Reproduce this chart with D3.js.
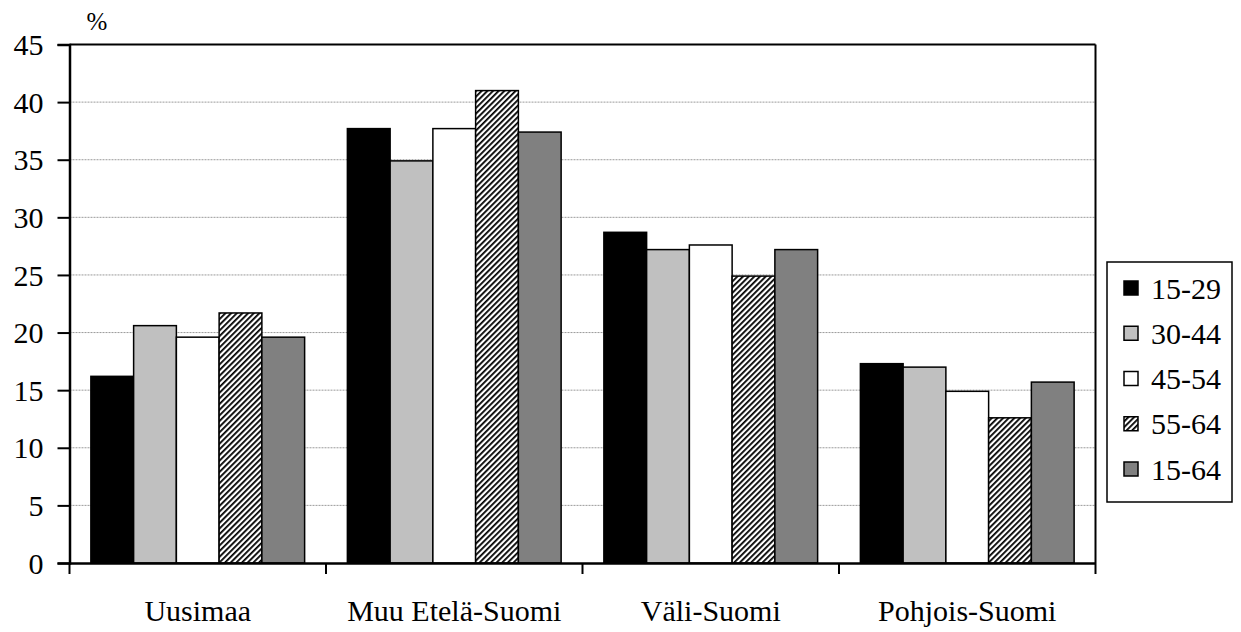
<!DOCTYPE html>
<html><head><meta charset="utf-8">
<script src="https://cdn.jsdelivr.net/npm/d3@7"></script>
<style>body{margin:0;background:#fff}</style>
</head><body><svg id="c" width="1241" height="632"></svg>
<script>
const categories = ["Uusimaa", "Muu Etelä-Suomi", "Väli-Suomi", "Pohjois-Suomi"];
const seriesNames = ["15-29", "30-44", "45-54", "55-64", "15-64"];
const s1529 = [16.2, 37.7, 28.7, 17.3];
const s3044 = [20.6, 34.9, 27.2, 17.0];
const s4554 = [19.6, 37.7, 27.6, 14.9];
const s5564 = [21.7, 41.0, 24.9, 12.6];
const s1564 = [19.6, 37.4, 27.2, 15.7];
const yTicks = [0, 5, 10, 15, 20, 25, 30, 35, 40, 45];
const seriesValues = [s1529, s3044, s4554, s5564, s1564];
const fills = ["#000000", "#c0c0c0", "#ffffff", "url(#hatch)", "#808080"];

const FONT = "'Liberation Serif', serif";
const svg = d3.select("#c").style("font-family", FONT);
const L = 69.5, R = 1095.5, T = 44.5, B = 563;
const FS = 30;

const defs = svg.append("defs");
const pat = defs.append("pattern").attr("id", "hatch").attr("patternUnits", "userSpaceOnUse")
  .attr("width", 4).attr("height", 4).attr("patternTransform", "rotate(45)");
pat.append("rect").attr("width", 4).attr("height", 4).attr("fill", "#fff");
pat.append("rect").attr("width", 1.8).attr("height", 4).attr("fill", "#000");

const x0 = d3.scaleBand().domain(categories).range([L, R]).padding(0);
const x1 = d3.scaleBand().domain(seriesNames).range([0, x0.bandwidth()]).paddingInner(0).paddingOuter(0.5);
const y = d3.scaleLinear().domain([0, 45]).range([B, T]);

svg.append("g").selectAll("line").data(yTicks.filter(d => d > 0 && d < 45)).join("line")
  .attr("x1", L).attr("x2", R).attr("y1", d => y(d)).attr("y2", d => y(d))
  .attr("stroke", "#9a9a9a").attr("stroke-width", 1).attr("stroke-dasharray", "2,1");

const data = [];
categories.forEach((c, i) => seriesNames.forEach((s, j) => data.push({c, s, v: seriesValues[j][i], j})));
svg.append("g").selectAll("rect").data(data).join("rect")
  .attr("x", d => x0(d.c) + x1(d.s)).attr("width", x1.bandwidth())
  .attr("y", d => y(d.v)).attr("height", d => y(0) - y(d.v))
  .attr("fill", d => fills[d.j]).attr("stroke", "#000").attr("stroke-width", 1.5);

svg.append("line").attr("x1", L).attr("x2", R).attr("y1", T).attr("y2", T).attr("stroke", "#000").attr("stroke-width", 2);
svg.append("line").attr("x1", R).attr("x2", R).attr("y1", T).attr("y2", B).attr("stroke", "#000").attr("stroke-width", 2);

const ya = d3.axisLeft(y).tickValues(yTicks).tickSize(12).tickPadding(14).tickFormat(d3.format("d"));
const gy = svg.append("g").attr("transform", `translate(${L},0)`).call(ya).attr("font-family", null).attr("font-size", null);
gy.select(".domain").attr("stroke", "#000").attr("stroke-width", 2.5);
gy.selectAll(".tick line").attr("stroke", "#000").attr("stroke-width", 2);
gy.selectAll("text").style("font-family", FONT).style("font-size", FS + "px").attr("dy", "0.34em").attr("fill", "#000");

const xa = d3.axisBottom(x0).tickSize(0).tickPadding(37);
const gx = svg.append("g").attr("transform", `translate(0,${B})`).call(xa).attr("font-family", null).attr("font-size", null);
gx.select(".domain").attr("stroke", "#000").attr("stroke-width", 2.5);
gx.selectAll("text").style("font-family", FONT).style("font-size", FS + "px").attr("fill", "#000");
const bounds = categories.map(c => x0(c)).concat([R]);
gx.selectAll(".bnd").data(bounds).join("line").attr("class", "bnd")
  .attr("x1", d => d).attr("x2", d => d).attr("y1", 0).attr("y2", 11)
  .attr("stroke", "#000").attr("stroke-width", 2);

svg.append("text").attr("x", 97).attr("y", 30).attr("text-anchor", "middle")
  .style("font-family", FONT).style("font-size", "25px").text("%");

const lg = svg.append("g");
lg.append("rect").attr("x", 1107).attr("y", 262).attr("width", 125).attr("height", 240)
  .attr("fill", "#fff").attr("stroke", "#000").attr("stroke-width", 1.5);
const ly = d3.scalePoint().domain(seriesNames).range([288, 469]);
const items = lg.selectAll("g.it").data(seriesNames).join("g").attr("class", "it");
items.append("rect").attr("x", 1124).attr("y", d => ly(d) - 7).attr("width", 14).attr("height", 14)
  .attr("fill", (d, i) => fills[i]).attr("stroke", "#000").attr("stroke-width", 1.5);
items.append("text").attr("x", 1151).attr("y", d => ly(d)).attr("dy", "0.35em")
  .style("font-family", FONT).style("font-size", FS + "px").text(d => d);
</script></body></html>
